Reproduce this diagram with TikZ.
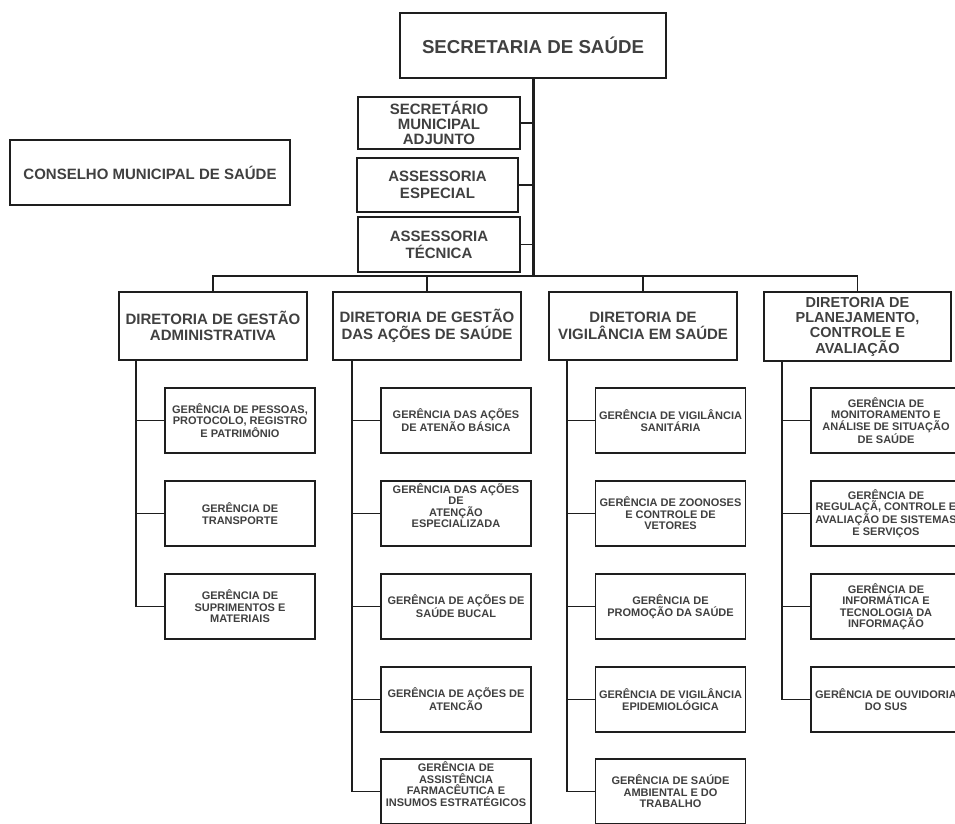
\documentclass[tikz,border=0pt]{standalone}
\usepackage{fontspec}
\setmainfont{Liberation Sans}
\definecolor{txtgray}{HTML}{404040}
\definecolor{linegray}{HTML}{1E1E1E}

\begin{document}
\begin{tikzpicture}[x=1pt,y=-1pt,
  box/.style={draw=linegray,line width=1.6pt,fill=white,inner sep=0pt,align=center,text=txtgray},
  topbox/.style={box,minimum width=266pt,minimum height=65pt,font=\fontsize{18.7}{20}\selectfont\bfseries},
  advbox/.style={box,minimum width=162pt,minimum height=54pt,font=\fontsize{15}{17}\selectfont\bfseries},
  dirbox/.style={box,minimum width=188pt,minimum height=68pt,font=\fontsize{15}{16.5}\selectfont\bfseries},
  gerbox/.style={box,minimum width=150pt,minimum height=65pt,font=\fontsize{11}{11.5}\selectfont\bfseries},
  gertxt/.style={align=center,text=txtgray,inner sep=0pt,font=\fontsize{11}{11.5}\selectfont\bfseries},
  link/.style={draw=linegray,line width=1.8pt},
  trunk/.style={draw=linegray,line width=3pt}]
  \clip (0,0) rectangle (955,823);
  \fill[white] (0,0) rectangle (955,823);

  % Top level
  \node[topbox] (sec) at (533,45.5) {SECRETARIA DE SAÚDE};
  \node[advbox,minimum height=52pt,font=\fontsize{15}{14.7}\selectfont\bfseries] (adj) at (439,123) {SECRETÁRIO\\MUNICIPAL\\ADJUNTO};
  \node[advbox,minimum width=161pt] (esp) at (437.5,185) {ASSESSORIA\\ESPECIAL};
  \node[advbox,minimum height=55pt] (tec) at (439,244.5) {ASSESSORIA\\TÉCNICA};
  \node[box,minimum width=280pt,minimum height=65pt,font=\fontsize{15}{16}\selectfont\bfseries] (cms) at (150,172.5) {CONSELHO MUNICIPAL DE SAÚDE};

  % Directorates
  \node[dirbox] (d1) at (213,326) {DIRETORIA DE GESTÃO\\ADMINISTRATIVA};
  \node[dirbox] (d2) at (427,326) {DIRETORIA DE GESTÃO\\DAS AÇÕES DE SAÚDE};
  \node[dirbox] (d3) at (643,326) {DIRETORIA DE\\VIGILÂNCIA EM SAÚDE};
  \node[dirbox,minimum width=187pt,minimum height=69pt,font=\fontsize{14.5}{15.3}\selectfont\bfseries] (d4) at (857.5,326.5) {DIRETORIA DE\\PLANEJAMENTO,\\CONTROLE E\\AVALIAÇÃO};

  % Trunk and bar
  \coordinate (bar) at (533,276);
  \draw[trunk] (sec.south) -- (bar);
  \foreach \a in {adj,esp,tec}
    \draw[link] (\a.east) -- (\a.east -| bar);
  \draw[link] (d1.north) |- (bar) -| (d4.north);
  \draw[link] (d2.north) -- (d2.north |- bar);
  \draw[link] (d3.north) -- (d3.north |- bar);

  % Managements, column 1
  \node[gerbox] (g11) at (240,420.5) {GERÊNCIA DE PESSOAS,\\PROTOCOLO, REGISTRO\\E PATRIMÔNIO};
  \node[gerbox] (g12) at (240,513.5) {GERÊNCIA DE\\TRANSPORTE};
  \node[gerbox] (g13) at (240,606.5) {GERÊNCIA DE\\SUPRIMENTOS E\\MATERIAIS};

  % Managements, column 2
  \node[gerbox] (g21) at (456,420.5) {GERÊNCIA DAS AÇÕES\\DE ATENÃO BÁSICA};
  \node[gerbox] (g22) at (456,513.5) {};
  \node[gertxt] (g22t) at ([yshift=8pt]g22.center) {GERÊNCIA DAS AÇÕES\\DE\\ATENÇÃO\\ESPECIALIZADA};
  \node[gerbox] (g23) at (456,606.5) {GERÊNCIA DE AÇÕES DE\\SAÚDE BUCAL};
  \node[gerbox] (g24) at (456,699.5) {GERÊNCIA DE AÇÕES DE\\ATENCÃO};
  \node[gerbox] (g25) at (456,791.5) {};
  \node[gertxt] (g25t) at ([yshift=7.5pt]g25.center) {GERÊNCIA DE\\ASSISTÊNCIA\\FARMACÊUTICA E\\INSUMOS ESTRATÉGICOS};

  % Managements, column 3
  \node[gerbox] (g31) at (670.5,420.5) {GERÊNCIA DE VIGILÂNCIA\\SANITÁRIA};
  \node[gerbox] (g32) at (670.5,513.5) {GERÊNCIA DE ZOONOSES\\E CONTROLE DE\\VETORES};
  \node[gerbox] (g33) at (670.5,606.5) {GERÊNCIA DE\\PROMOÇÃO DA SAÚDE};
  \node[gerbox] (g34) at (670.5,699.5) {GERÊNCIA DE VIGILÂNCIA\\EPIDEMIOLÓGICA};
  \node[gerbox] (g35) at (670.5,791.5) {GERÊNCIA DE SAÚDE\\AMBIENTAL E DO\\TRABALHO};

  % Managements, column 4
  \node[gerbox] (g41) at (886,420.5) {GERÊNCIA DE\\MONITORAMENTO E\\ANÁLISE DE SITUAÇÃO\\DE SAÚDE};
  \node[gerbox] (g42) at (886,513.5) {GERÊNCIA DE\\REGULAÇÃ, CONTROLE E\\AVALIAÇÃO DE SISTEMAS\\E SERVIÇOS};
  \node[gerbox] (g43) at (886,606.5) {GERÊNCIA DE\\INFORMÁTICA E\\TECNOLOGIA DA\\INFORMAÇÃO};
  \node[gerbox] (g44) at (886,699.5) {GERÊNCIA DE OUVIDORIA\\DO SUS};

  % Column lines
  \coordinate (c1) at ([xshift=18pt]d1.south west);
  \coordinate (c2) at ([xshift=20pt]d2.south west);
  \coordinate (c3) at ([xshift=19pt]d3.south west);
  \coordinate (c4) at ([xshift=19pt]d4.south west);
  \draw[link] (c1) |- (g13.west);
  \draw[link] (c2) |- (g25.west);
  \draw[link] (c3) |- (g35.west);
  \draw[link] (c4) |- (g44.west);
  \foreach \g in {g11,g12}
    \draw[link] (\g.west) -- (\g.west -| c1);
  \foreach \g in {g21,g22,g23,g24}
    \draw[link] (\g.west) -- (\g.west -| c2);
  \foreach \g in {g31,g32,g33,g34}
    \draw[link] (\g.west) -- (\g.west -| c3);
  \foreach \g in {g41,g42,g43}
    \draw[link] (\g.west) -- (\g.west -| c4);
\end{tikzpicture}
\end{document}
